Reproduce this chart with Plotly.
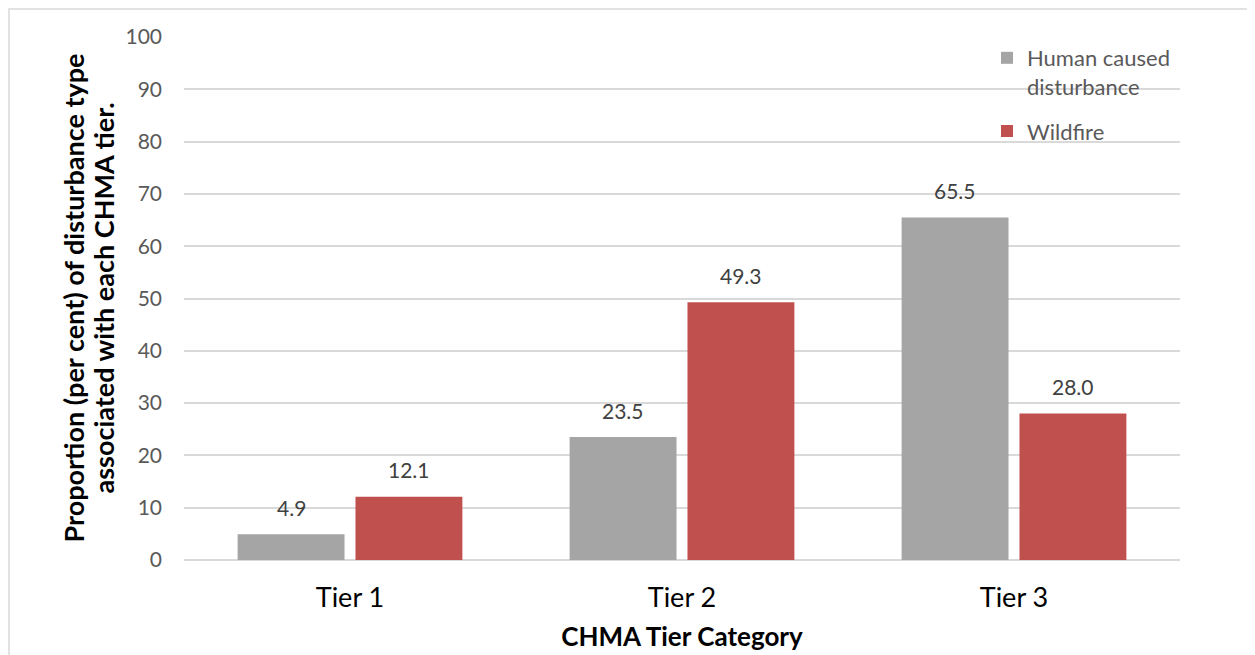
import plotly.graph_objects as go

categories = ["Tier 1", "Tier 2", "Tier 3"]
human = [4.9, 23.5, 65.5]
wildfire = [12.1, 49.3, 28.0]
series_names = ["Human caused<br>disturbance", "Wildfire"]
colors = ["#A5A5A5", "#C0504D"]
yticks = [0, 10, 20, 30, 40, 50, 60, 70, 80, 90, 100]
ytitle_lines = ["Proportion (per cent) of disturbance type",
                "associated with each CHMA tier."]
xtitle = "CHMA Tier Category"

FONT = "Lato"
OFF = 8  # page body margin
W, H = 1255 - OFF, 655 - OFF
ML, MT = 184 - OFF, 37 - OFF
PLOT_W, PLOT_H = 996, 523
MR = W - ML - PLOT_W
MB = H - MT - PLOT_H
BARGAP = 0.29
GROUPGAP = 0.093

fig = go.Figure()
for name, vals, col, grp in [(series_names[0], human, colors[0], "a"),
                             (series_names[1], wildfire, colors[1], "b")]:
    fig.add_trace(go.Bar(x=categories, y=vals, name=name, marker_color=col,
                         marker_line_width=0, legendgroup=grp))

# data labels above bars
cat_w = PLOT_W / len(categories)
slot = cat_w * (1 - BARGAP) / 2
for k, vals in enumerate([human, wildfire]):
    shift = (k - 0.5) * slot
    for c, v in zip(categories, vals):
        fig.add_annotation(x=c, y=v, text=f"{v:.1f}", showarrow=False,
                           xshift=shift, yshift=27, yanchor="middle",
                           font=dict(family=FONT, size=21, color="#404040"))

# y-axis title, two rotated lines
for line, px in zip(ytitle_lines, [73, 103]):
    fig.add_annotation(xref="paper", yref="paper",
                       x=(px - OFF - ML) / PLOT_W, y=0.5,
                       xanchor="center", yanchor="middle",
                       text=f"<b>{line}</b>", textangle=-90, showarrow=False,
                       font=dict(family=FONT, size=27, color="#000000"))

# outer border
fig.add_shape(type="rect", xref="paper", yref="paper",
              x0=(1 - ML) / PLOT_W, x1=(1252 - OFF - ML) / PLOT_W,
              y0=(MT + PLOT_H - 700) / PLOT_H, y1=(MT + PLOT_H - 1) / PLOT_H,
              line=dict(color="#D9D9D9", width=1.5), layer="below")

fig.update_layout(
    width=W, height=H,
    margin=dict(l=ML, r=MR, t=MT, b=MB, autoexpand=False),
    paper_bgcolor="white", plot_bgcolor="white",
    barmode="group", bargap=BARGAP, bargroupgap=GROUPGAP,
    font=dict(family=FONT, color="#595959"),
    showlegend=True,
    legend=dict(x=(987 - OFF - ML) / PLOT_W, y=(MT + PLOT_H - (37 - OFF)) / PLOT_H,
                xanchor="left", yanchor="top", valign="top",
                traceorder="grouped", tracegroupgap=13,
                bgcolor="rgba(0,0,0,0)",
                font=dict(family=FONT, size=22, color="#595959")),
    xaxis=dict(
        showgrid=False, showline=False, ticks="",
        tickfont=dict(family=FONT, size=27, color="#000000"),
        ticklabelstandoff=19,
        title=dict(text=f"<b>{xtitle}</b>", standoff=15,
                   font=dict(family=FONT, size=26, color="#000000")),
    ),
    yaxis=dict(
        range=[0, 100], tickvals=yticks, showline=False, ticks="",
        showgrid=True, gridcolor="#D9D9D9", gridwidth=1.5,
        zeroline=True, zerolinecolor="#D9D9D9", zerolinewidth=1.5,
        tickfont=dict(family=FONT, size=21, color="#595959"),
        ticklabelstandoff=21,
    ),
)

fig.write_html("out.html")
